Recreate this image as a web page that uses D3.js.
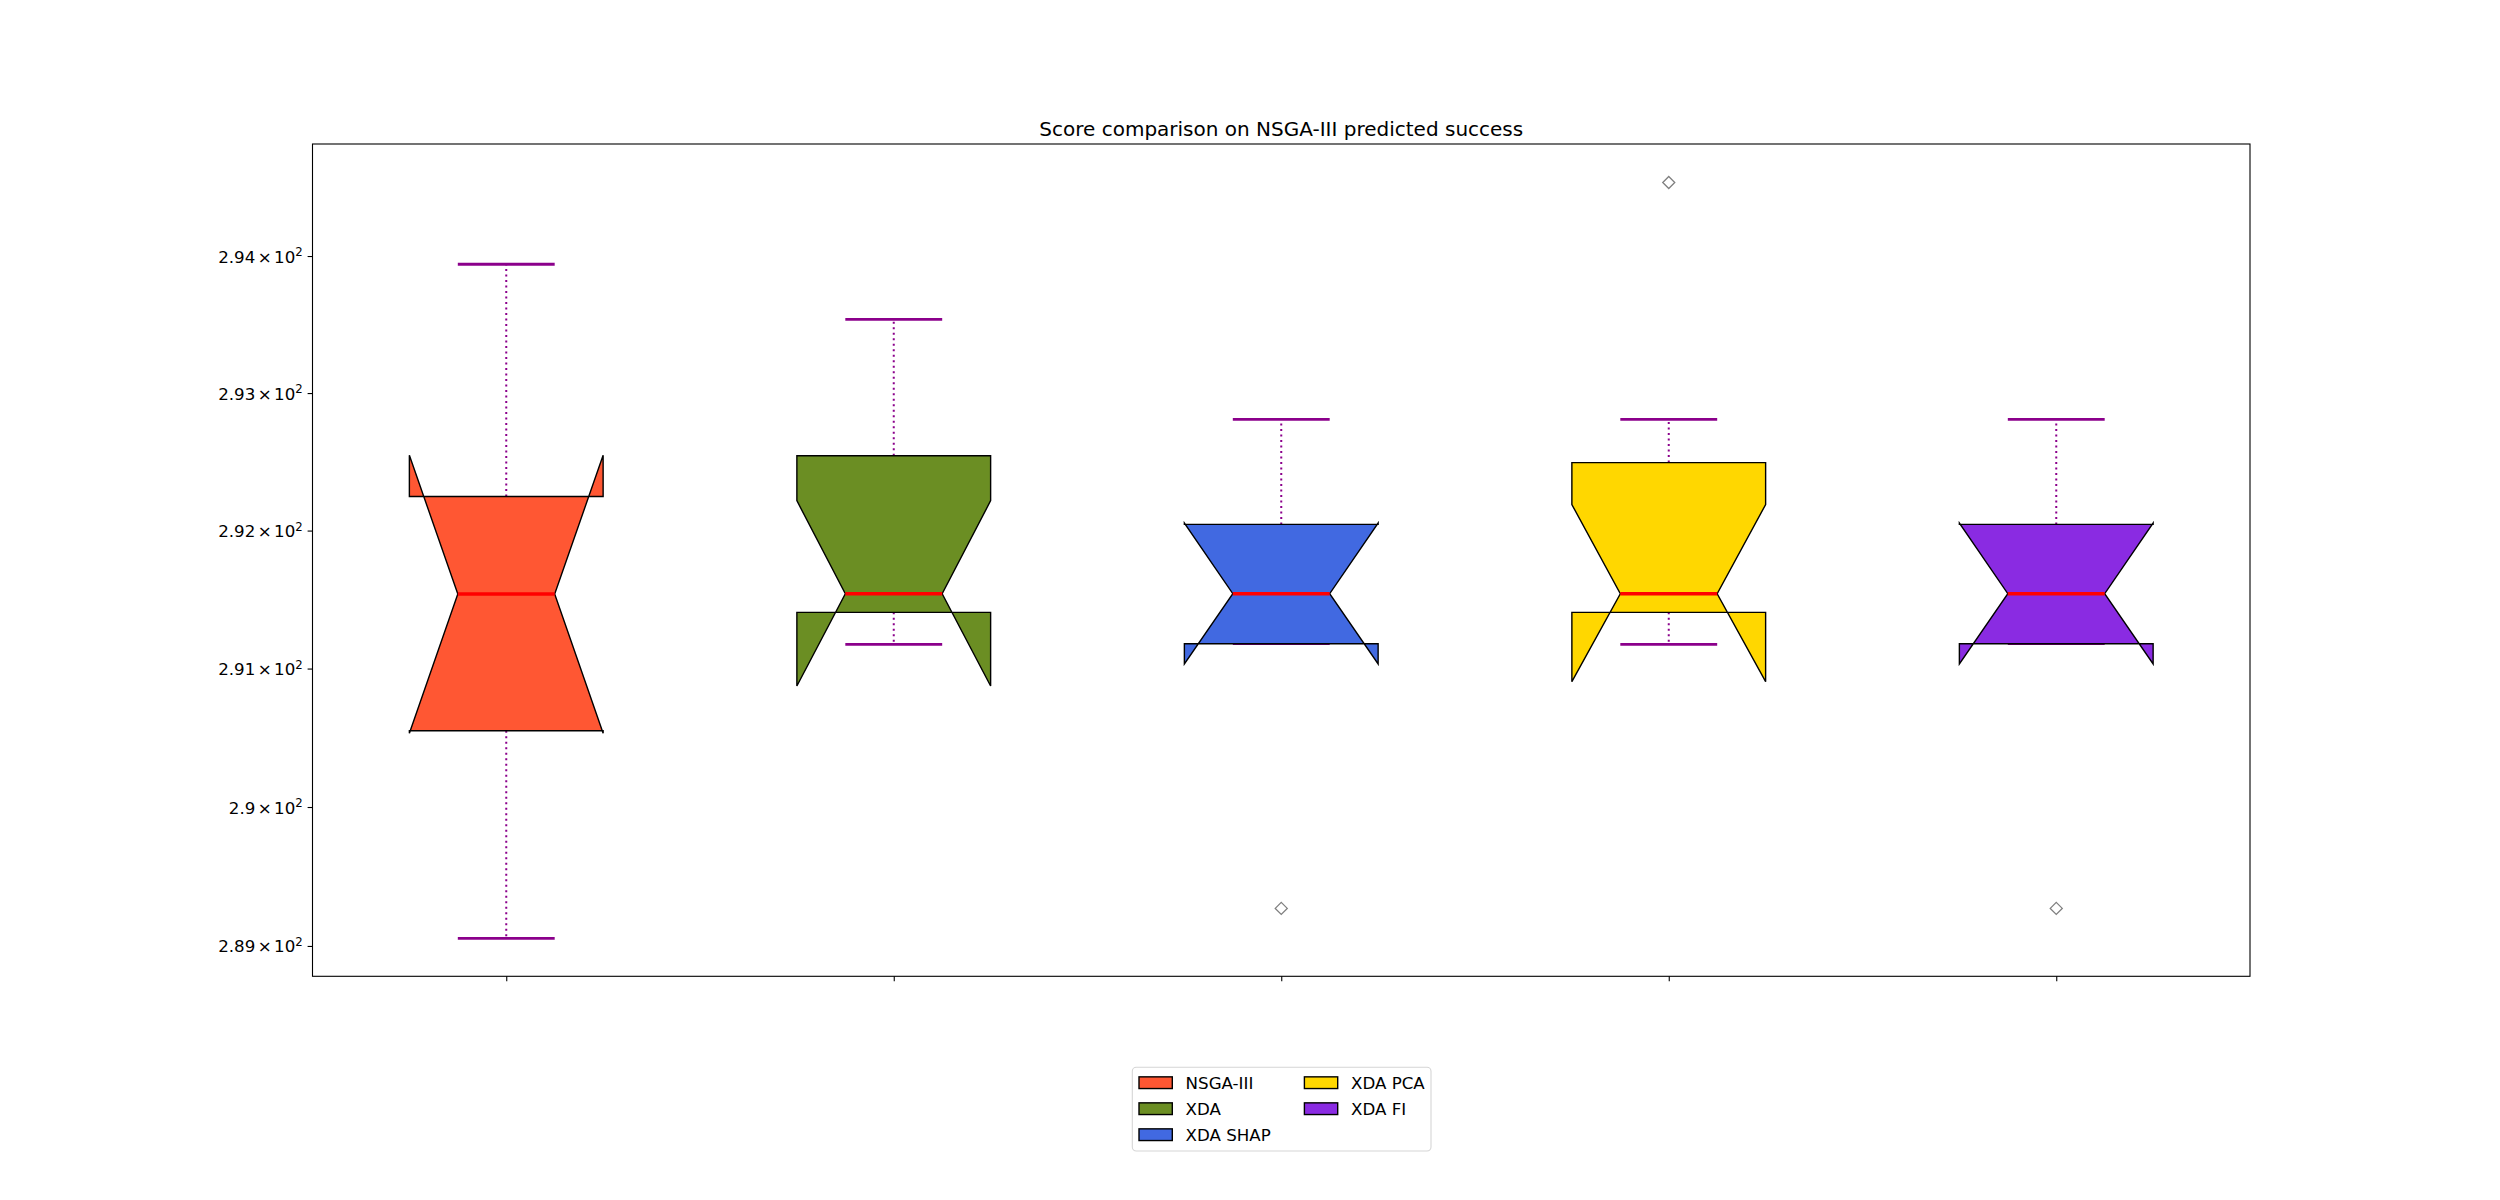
<!DOCTYPE html>
<html><head><meta charset="utf-8">
<script src="https://cdn.jsdelivr.net/npm/d3@7"></script>
<style>html,body{margin:0;padding:0;background:#fff;} svg{display:block;font-family:"DejaVu Sans",sans-serif;}</style>
</head><body><svg id="chart" width="2500" height="1200"></svg>
<script>
const categories = ["NSGA-III", "XDA", "XDA SHAP", "XDA PCA", "XDA FI"];
const positions = [1, 2, 3, 4, 5];
const colors = ["#FF5733", "#6B8E23", "#4169E1", "#FFD700", "#8A2BE2"];
const whiskerLow = [289.055, 291.175, 291.18, 291.175, 291.18];
const q1 = [290.55, 291.407, 291.18, 291.407, 291.18];
const median = [291.54, 291.542, 291.542, 291.542, 291.542];
const q3 = [292.247, 292.544, 292.045, 292.494, 292.045];
const whiskerHigh = [293.94, 293.538, 292.809, 292.809, 292.809];
const notchLow = [290.533, 290.874, 291.033, 290.905, 291.033];
const notchHigh = [292.547, 292.217, 292.055, 292.189, 292.055];
const outliers = [[], [], [289.27], [294.538], [289.27]];
const yTicks = [289, 290, 291, 292, 293, 294];
const yTickMantissas = ["2.89", "2.9", "2.91", "2.92", "2.93", "2.94"];
const yDomain = [288.782, 294.82];
const xDomain = [0.5, 5.5];
const title = "Score comparison on NSGA-III predicted success";

const L = 312.5, R = 2250, T = 144, B = 976.3;
const svg = d3.select("#chart");
const x = d3.scaleLinear().domain(xDomain).range([L, R]);
const y = d3.scaleLog().domain(yDomain).range([B, T]);

const boxHalf = 0.25, notchHalf = 0.125, capHalf = 0.125;
const purple = "#8B008B";

const data = categories.map((c, i) => ({
  name: c, pos: positions[i], color: colors[i], wlo: whiskerLow[i], q1: q1[i], med: median[i],
  q3: q3[i], whi: whiskerHigh[i], nlo: notchLow[i], nhi: notchHigh[i], out: outliers[i]
}));

const g = svg.append("g");
// whiskers
data.forEach(d => {
  [[d.q1, d.wlo], [d.q3, d.whi]].forEach(([a, b]) => {
    g.append("line").attr("x1", x(d.pos)).attr("x2", x(d.pos)).attr("y1", y(a)).attr("y2", y(b))
      .attr("stroke", purple).attr("stroke-width", 2).attr("stroke-dasharray", "2,3.5");
  });
});
// caps
data.forEach(d => {
  [d.wlo, d.whi].forEach(v => {
    g.append("line").attr("x1", x(d.pos - capHalf)).attr("x2", x(d.pos + capHalf))
      .attr("y1", y(v)).attr("y2", y(v)).attr("stroke", purple).attr("stroke-width", 2.8);
  });
});
// boxes
data.forEach(d => {
  const pts = [
    [d.pos - boxHalf, d.q1], [d.pos + boxHalf, d.q1], [d.pos + boxHalf, d.nlo],
    [d.pos + notchHalf, d.med], [d.pos + boxHalf, d.nhi], [d.pos + boxHalf, d.q3],
    [d.pos - boxHalf, d.q3], [d.pos - boxHalf, d.nhi], [d.pos - notchHalf, d.med],
    [d.pos - boxHalf, d.nlo], [d.pos - boxHalf, d.q1]
  ];
  g.append("path").attr("d", d3.line().x(p => x(p[0])).y(p => y(p[1]))(pts) + "Z")
    .attr("fill", d.color).attr("stroke", "#000").attr("stroke-width", 1.4).attr("stroke-linejoin", "miter");
});
// medians
data.forEach(d => {
  g.append("line").attr("x1", x(d.pos - notchHalf)).attr("x2", x(d.pos + notchHalf))
    .attr("y1", y(d.med)).attr("y2", y(d.med)).attr("stroke", "#FF0000").attr("stroke-width", 3.4);
});
// fliers
data.forEach(d => {
  d.out.forEach(v => {
    const cx = x(d.pos), cy = y(v), r = 6;
    g.append("path").attr("d", `M${cx},${cy - r}L${cx + r},${cy}L${cx},${cy + r}L${cx - r},${cy}Z`)
      .attr("fill", "none").attr("stroke", "#7f7f7f").attr("stroke-width", 1.3);
  });
});

// axes
const yAxis = d3.axisLeft(y).tickValues(yTicks).tickSize(4.9).tickSizeOuter(0).tickFormat("");
const yg = svg.append("g").attr("transform", `translate(${L},0)`).call(yAxis);
yg.select(".domain").remove();
yg.selectAll(".tick line").attr("stroke", "#000").attr("stroke-width", 1.1);
yg.selectAll(".tick").each(function(v, i) {
  const t = d3.select(this).append("text").attr("x", -9.8).attr("y", 0).attr("dy", "0.36em")
    .attr("text-anchor", "end").attr("fill", "#000").attr("font-size", "16.67px")
    .attr("font-family", '"DejaVu Sans", sans-serif');
  t.append("tspan").text(yTickMantissas[i]);
  t.append("tspan").attr("dx", 2.4).text("\u00D7");
  t.append("tspan").attr("dx", 2.4).text("10");
  t.append("tspan").attr("font-size", "11.7px").attr("dy", "-0.55em").text("2");
});
const xAxis = d3.axisBottom(x).tickValues(positions).tickSize(4.9).tickSizeOuter(0).tickFormat("");
const xg = svg.append("g").attr("transform", `translate(0,${B})`).call(xAxis);
xg.select(".domain").remove();
xg.selectAll(".tick line").attr("stroke", "#000").attr("stroke-width", 1.1);

svg.append("rect").attr("x", L).attr("y", T).attr("width", R - L).attr("height", B - T)
  .attr("fill", "none").attr("stroke", "#000").attr("stroke-width", 1.1);

svg.append("text").attr("x", (L + R) / 2).attr("y", 136).attr("text-anchor", "middle")
  .attr("font-size", "20px").attr("fill", "#000").text(title);

// legend
const lg = svg.append("g");
lg.append("rect").attr("x", 1132.3).attr("y", 1067.3).attr("width", 298.7).attr("height", 83.7)
  .attr("rx", 4).attr("fill", "#fff").attr("fill-opacity", 0.8).attr("stroke", "#d5d5d5").attr("stroke-width", 1.1);
categories.forEach((c, i) => {
  const col = Math.floor(i / 3), row = i % 3;
  const px = col === 0 ? 1139 : 1304.4;
  const cy = 1082.7 + row * 26;
  lg.append("rect").attr("x", px).attr("y", cy - 5.85).attr("width", 33.3).attr("height", 11.7)
    .attr("fill", colors[i]).attr("stroke", "#000").attr("stroke-width", 1.4);
  lg.append("text").attr("x", px + 46.6).attr("y", cy).attr("dy", "0.36em")
    .attr("font-size", "16.67px").attr("fill", "#000").text(c);
});
</script></body></html>
